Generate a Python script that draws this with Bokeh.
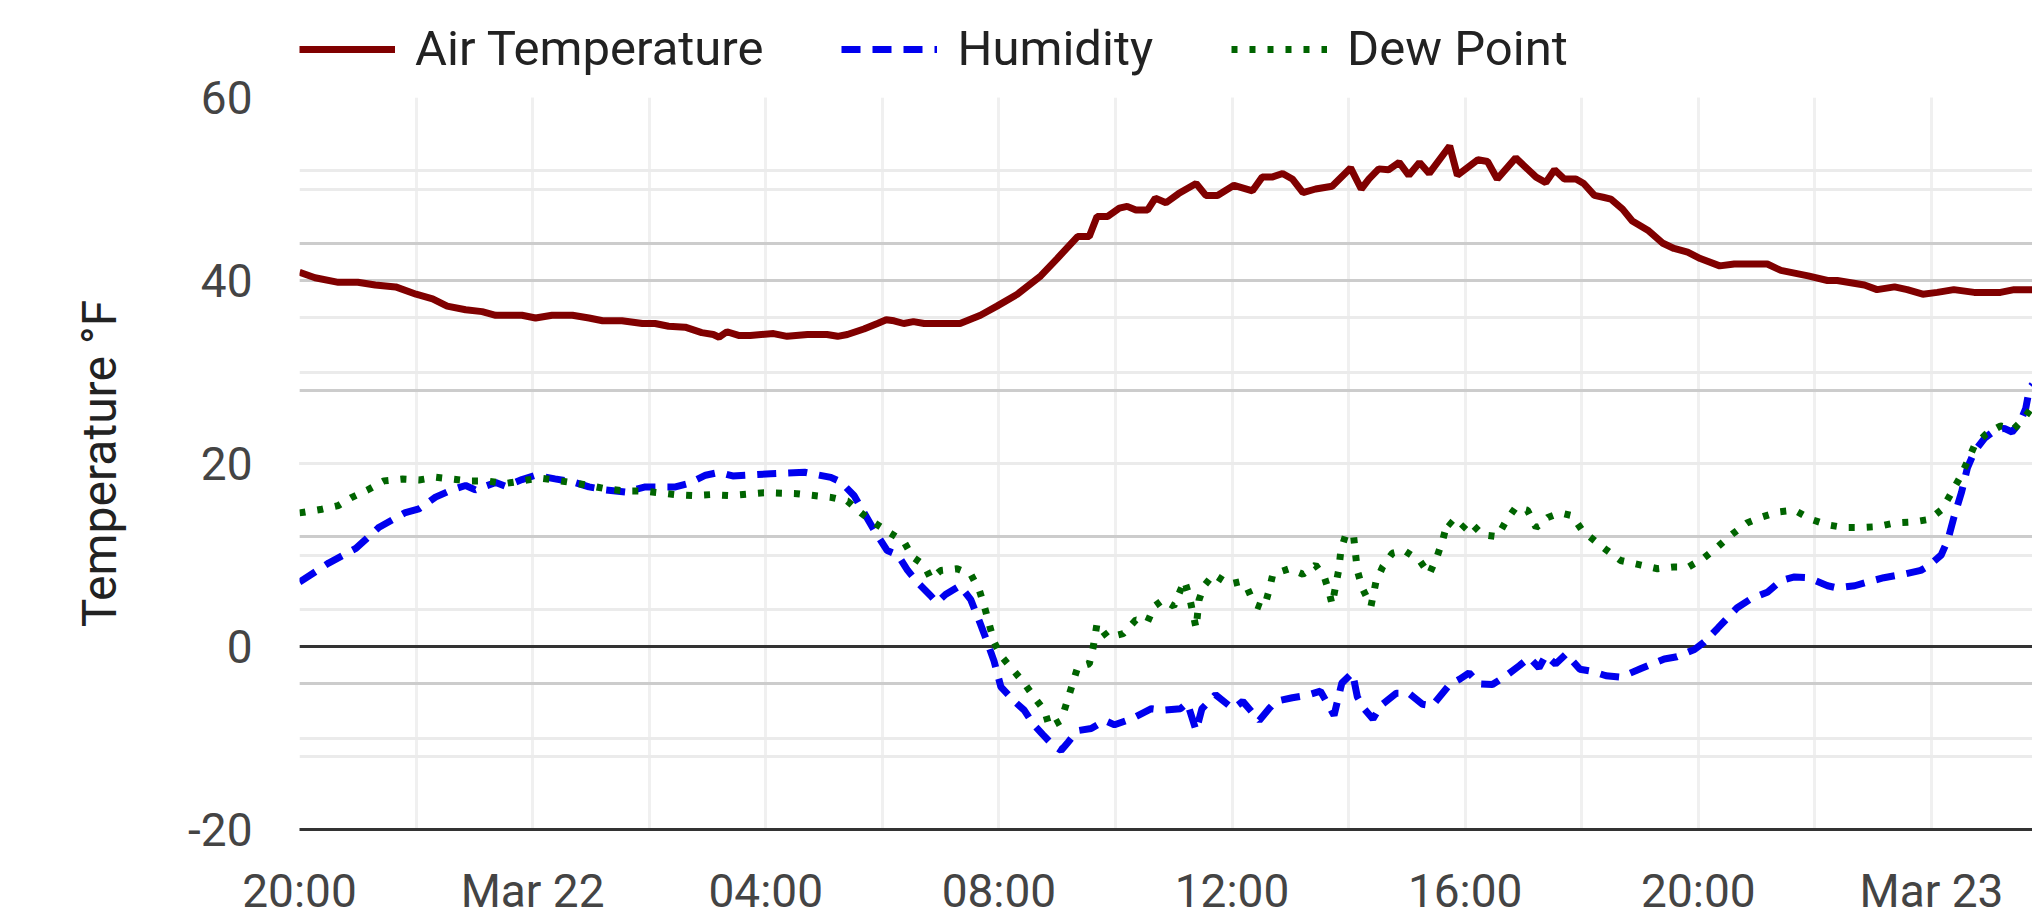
import datetime as dt
from bokeh.plotting import figure
from bokeh.layouts import column
from bokeh.models import (Range1d, Grid, SingleIntervalTicker, Span, Legend,
                          LegendItem, CustomJSTickFormatter)
from bokeh.embed import file_html
from bokeh.resources import INLINE

# ---------------- data ----------------
START = dt.datetime(2024, 3, 21, 20, 0)
END = dt.datetime(2024, 3, 23, 1, 44)

air_min = [0, 16, 40, 60, 78, 99, 120, 137, 152, 171, 188, 202, 229, 243, 260, 281, 298, 312, 332, 353,
           366, 380, 397, 414, 426, 432, 440, 452, 464, 488, 502, 523, 543, 554, 564, 581, 595, 604, 612, 622,
           632, 643, 680, 701, 718, 739, 763, 780, 801, 813, 821, 832, 844, 852, 861, 873, 881, 892, 905, 923,
           933, 945, 962, 981, 991, 1001, 1012, 1022, 1033, 1046, 1063, 1082, 1093, 1101, 1111, 1121, 1132, 1142, 1153, 1163,
           1184, 1192, 1213, 1223, 1233, 1252, 1273, 1283, 1292, 1302, 1314, 1322, 1333, 1342, 1350, 1362, 1372, 1388, 1403, 1415,
           1429, 1442, 1462, 1477, 1511, 1525, 1553, 1573, 1583, 1611, 1624, 1642, 1655, 1671, 1686, 1703, 1724, 1751, 1765, 1784]
air_temp = [40.9, 40.3, 39.8, 39.8, 39.5, 39.3, 38.5, 38.0, 37.2, 36.8, 36.6, 36.2, 36.2, 35.9, 36.2, 36.2, 35.9, 35.6, 35.6, 35.3,
            35.3, 35.0, 34.9, 34.3, 34.1, 33.8, 34.4, 34.0, 34.0, 34.2, 33.9, 34.1, 34.1, 33.9, 34.1, 34.7, 35.3, 35.7, 35.6, 35.3,
            35.5, 35.3, 35.3, 36.2, 37.2, 38.5, 40.5, 42.4, 44.8, 44.8, 47.0, 47.0, 47.9, 48.1, 47.7, 47.7, 49.0, 48.5, 49.5, 50.6,
            49.3, 49.3, 50.4, 49.8, 51.3, 51.3, 51.7, 51.1, 49.6, 50.0, 50.3, 52.3, 50.0, 51.1, 52.2, 52.1, 52.9, 51.5, 52.9, 51.7,
            54.7, 51.5, 53.2, 53.0, 51.1, 53.4, 51.3, 50.7, 52.1, 51.1, 51.1, 50.6, 49.3, 49.1, 48.9, 47.8, 46.5, 45.5, 44.1, 43.5,
            43.1, 42.4, 41.6, 41.8, 41.8, 41.1, 40.5, 40.0, 40.0, 39.5, 39.0, 39.3, 39.0, 38.5, 38.7, 39.0, 38.7, 38.7, 39.0, 39.0]

hum_min = [0, 30, 58, 82, 109, 123, 140, 157, 171, 181, 202, 212, 229, 243, 263, 281, 298, 315, 336, 356,
           370, 387, 401, 418, 432, 446, 485, 520, 547, 557, 571, 581, 592, 605, 616, 626, 638, 650, 656, 665,
           680, 691, 700, 708, 715, 722, 736, 746, 756, 765, 775, 784, 791, 801, 815, 829, 839, 856, 877, 890,
           907, 914, 923, 929, 943, 961, 971, 988, 998, 1005, 1022, 1036, 1051, 1057, 1065, 1073, 1084, 1089, 1096, 1105,
           1113, 1129, 1142, 1156, 1166, 1184, 1194, 1204, 1214, 1228, 1242, 1256, 1266, 1276, 1283, 1293, 1304, 1318, 1331, 1345,
           1360, 1381, 1405, 1418, 1436, 1446, 1460, 1480, 1494, 1511, 1525, 1539, 1553, 1573, 1583, 1601, 1614, 1631, 1652, 1669,
           1678, 1690, 1697, 1703, 1711, 1717, 1724, 1735, 1745, 1755, 1763, 1771, 1777, 1781, 1784]
hum_pct = [33.8, 36.4, 38.4, 41.3, 43.3, 43.8, 45.4, 46.4, 47.0, 46.4, 47.4, 46.9, 47.8, 48.4, 47.9, 47.5, 46.8, 46.4, 46.1, 46.8,
           46.8, 46.8, 47.3, 48.4, 48.8, 48.3, 48.6, 48.8, 48.1, 47.5, 45.6, 43.3, 40.8, 38.1, 37.5, 35.4, 33.5, 31.9, 31.0, 32.1,
           33.3, 31.4, 28.4, 25.6, 23.0, 19.5, 17.5, 16.3, 14.3, 13.0, 11.6, 10.8, 11.9, 13.5, 13.8, 14.9, 14.3, 15.1, 16.5, 16.3,
           16.5, 17.3, 13.5, 16.5, 18.4, 16.5, 17.5, 14.9, 16.5, 17.5, 18.0, 18.3, 18.9, 17.5, 15.6, 20.0, 21.4, 18.1, 16.5, 15.1,
           16.9, 18.6, 18.6, 17.1, 16.9, 19.8, 20.5, 21.4, 19.9, 19.8, 21.0, 22.4, 23.5, 22.1, 23.8, 22.6, 24.0, 21.9, 21.6, 21.0,
           20.8, 22.0, 23.3, 23.6, 24.6, 25.6, 27.5, 30.3, 31.5, 32.4, 34.0, 34.5, 34.4, 33.3, 33.0, 33.3, 33.8, 34.4, 34.9, 35.4,
           36.1, 37.5, 39.6, 42.6, 46.1, 49.4, 51.6, 53.5, 54.5, 54.8, 54.3, 55.6, 57.5, 60.3, 60.8]

dew_min = [0, 23, 40, 54, 70, 87, 106, 123, 140, 157, 174, 193, 211, 229, 247, 263, 281, 298, 317, 336,
           353, 370, 387, 406, 423, 442, 478, 512, 547, 564, 578, 592, 608, 622, 631, 643, 650, 660, 677, 691,
           700, 706, 715, 722, 734, 746, 756, 767, 772, 784, 794, 801, 813, 817, 821, 832, 848, 861, 873, 880,
           889, 900, 911, 916, 923, 926, 931, 941, 957, 969, 976, 983, 993, 998, 1002, 1019, 1033, 1046, 1055, 1060,
           1063, 1067, 1070, 1072, 1077, 1085, 1087, 1089, 1094, 1103, 1108, 1115, 1125, 1137, 1153, 1163, 1171, 1177, 1182, 1194,
           1204, 1218, 1233, 1242, 1252, 1264, 1273, 1285, 1298, 1310, 1321, 1334, 1346, 1360, 1381, 1398, 1415, 1430, 1446, 1460,
           1474, 1490, 1504, 1522, 1539, 1556, 1573, 1590, 1607, 1624, 1642, 1661, 1678, 1691, 1700, 1709, 1717, 1724, 1736, 1751,
           1765, 1775, 1784]
dew_temp = [14.6, 15.0, 15.4, 16.3, 17.1, 18.1, 18.3, 18.2, 18.5, 18.3, 18.1, 18.1, 17.8, 18.1, 18.4, 18.2, 17.9, 17.6, 17.2, 17.0,
            17.0, 16.8, 16.6, 16.5, 16.6, 16.5, 16.8, 16.7, 16.3, 15.9, 14.6, 13.5, 12.4, 11.5, 9.8, 8.9, 7.4, 8.3, 8.5, 7.9,
            6.1, 4.0, 0.5, -1.0, -2.5, -4.0, -5.5, -7.0, -8.8, -8.1, -4.7, -2.3, -1.9, -0.1, 2.5, 1.0, 1.4, 2.9, 2.7, 4.4,
            5.1, 4.4, 7.2, 5.5, 2.0, 5.1, 6.6, 7.9, 6.8, 7.1, 6.3, 4.6, 4.2, 6.1, 7.9, 8.5, 7.9, 8.9, 7.6, 5.9,
            4.6, 6.8, 8.5, 10.5, 12.2, 12.2, 10.2, 8.3, 6.4, 4.4, 7.0, 8.7, 10.2, 10.5, 9.4, 7.9, 9.8, 11.7, 13.7, 12.6,
            13.7, 12.2, 12.0, 13.7, 15.2, 14.9, 13.0, 14.1, 14.6, 14.3, 12.6, 11.5, 10.5, 9.4, 8.9, 8.5, 8.7, 8.7, 9.7, 10.9,
            12.2, 13.5, 14.1, 14.7, 14.9, 13.9, 13.3, 13.0, 13.0, 13.1, 13.5, 13.6, 13.9, 15.0, 16.7, 18.4, 20.2, 21.9, 23.2, 24.1,
            23.8, 24.9, 26.2]

series_labels = ["Air Temperature", "Humidity", "Dew Point"]
temp_range = (-20, 60)
hum_range = (0, 100)
y_axis_label = "Temperature °F"


def times(mins):
    return [START + dt.timedelta(minutes=m) for m in mins]


FONT = "Roboto"
STYLES = [dict(line_color="#800000", line_width=7),
          dict(line_color="#0000ee", line_width=7, line_dash="19 12"),
          dict(line_color="#006400", line_width=7, line_dash="6 12")]

LEGEND_H = 77      # height of the legend strip
TOP_PAD = 20       # room above the plot frame for the top tick label

# ---------------- main chart ----------------
p = figure(width=2032, height=920 - LEGEND_H, output_backend="svg", toolbar_location=None,
           x_axis_type="datetime",
           x_range=Range1d(START, END),
           y_range=Range1d(*temp_range),
           min_border_left=299, min_border_right=0, min_border_top=TOP_PAD, min_border_bottom=91,
           title_location=None)
p.extra_y_ranges = {"humidity": Range1d(*hum_range)}
p.outline_line_color = None
p.background_fill_color = "white"
p.border_fill_color = "white"

xt = SingleIntervalTicker(interval=4 * 3600 * 1000, num_minor_ticks=2)
p.xaxis.ticker = xt
p.xgrid.ticker = xt
p.xaxis.formatter = CustomJSTickFormatter(code="""
const d = new Date(tick);
const h = d.getUTCHours(), m = d.getUTCMinutes();
const months = ["Jan","Feb","Mar","Apr","May","Jun","Jul","Aug","Sep","Oct","Nov","Dec"];
if (h === 0 && m === 0) { return months[d.getUTCMonth()] + " " + d.getUTCDate(); }
return String(h).padStart(2, "0") + ":" + String(m).padStart(2, "0");
""")
p.xgrid.grid_line_color = "#f0f0f0"
p.xgrid.grid_line_width = 3
p.xgrid.minor_grid_line_color = "#f0f0f0"
p.xgrid.minor_grid_line_width = 3
p.xaxis.axis_line_color = "#333333"
p.xaxis.axis_line_width = 3
p.xaxis.major_tick_line_color = None
p.xaxis.minor_tick_line_color = None
p.xaxis.major_label_text_font = FONT
p.xaxis.major_label_text_font_size = "46px"
p.xaxis.major_label_text_color = "#444444"
p.xaxis.major_label_standoff = 28

yt = SingleIntervalTicker(interval=20, num_minor_ticks=2)
p.yaxis.ticker = yt
p.ygrid.ticker = yt
p.yaxis.formatter = CustomJSTickFormatter(code="return String(tick);")
p.ygrid.grid_line_color = "#cccccc"
p.ygrid.grid_line_width = 3
p.ygrid.minor_grid_line_color = "#ebebeb"
p.ygrid.minor_grid_line_width = 3
p.yaxis.axis_line_color = None
p.yaxis.major_tick_line_color = None
p.yaxis.minor_tick_line_color = None
p.yaxis.major_label_text_font = FONT
p.yaxis.major_label_text_font_size = "46px"
p.yaxis.major_label_text_color = "#444444"
p.yaxis.major_label_standoff = 41
p.yaxis.axis_label = y_axis_label
p.yaxis.axis_label_text_font = FONT
p.yaxis.axis_label_text_font_size = "48px"
p.yaxis.axis_label_text_font_style = "normal"
p.yaxis.axis_label_text_color = "#222222"
p.yaxis.axis_label_standoff = 57

hgrid = Grid(dimension=1, y_range_name="humidity",
             ticker=SingleIntervalTicker(interval=20, num_minor_ticks=2),
             grid_line_color="#cccccc", grid_line_width=3,
             minor_grid_line_color="#ebebeb", minor_grid_line_width=3)
p.add_layout(hgrid)

p.add_layout(Span(location=0, dimension="width", line_color="#333333",
                  line_width=3, level="underlay"))

p.line(times(air_min), air_temp, **STYLES[0])
p.line(times(hum_min), hum_pct, y_range_name="humidity", **STYLES[1])
p.line(times(dew_min), dew_temp, **STYLES[2])

# ---------------- legend strip above the chart ----------------
lg = figure(width=2032, height=LEGEND_H, output_backend="svg", toolbar_location=None,
            x_range=Range1d(0, 1), y_range=Range1d(0, 1),
            x_axis_location=None, y_axis_location=None, title_location=None,
            min_border_left=0, min_border_right=0, min_border_top=0, min_border_bottom=0)
lg.grid.visible = False
lg.outline_line_color = None
lg.background_fill_color = "white"
lg.border_fill_color = "white"
nan = float("nan")
items = []
for label, style in zip(series_labels, STYLES):
    r = lg.line([nan], [nan], **style)   # legend key only, no data drawn
    items.append(LegendItem(label=label, renderers=[r]))

legend = Legend(items=items, orientation="horizontal", location=(0, 0),
                label_text_font=FONT, label_text_font_size="49px",
                label_text_color="#222222",
                glyph_width=96, glyph_height=56, label_height=56,
                label_standoff=20, spacing=78, padding=0, margin=0,
                border_line_color=None, background_fill_alpha=0)
lg.add_layout(legend)

layout = column(lg, p, spacing=0)
open("out.html", "w").write(file_html(layout, INLINE))
